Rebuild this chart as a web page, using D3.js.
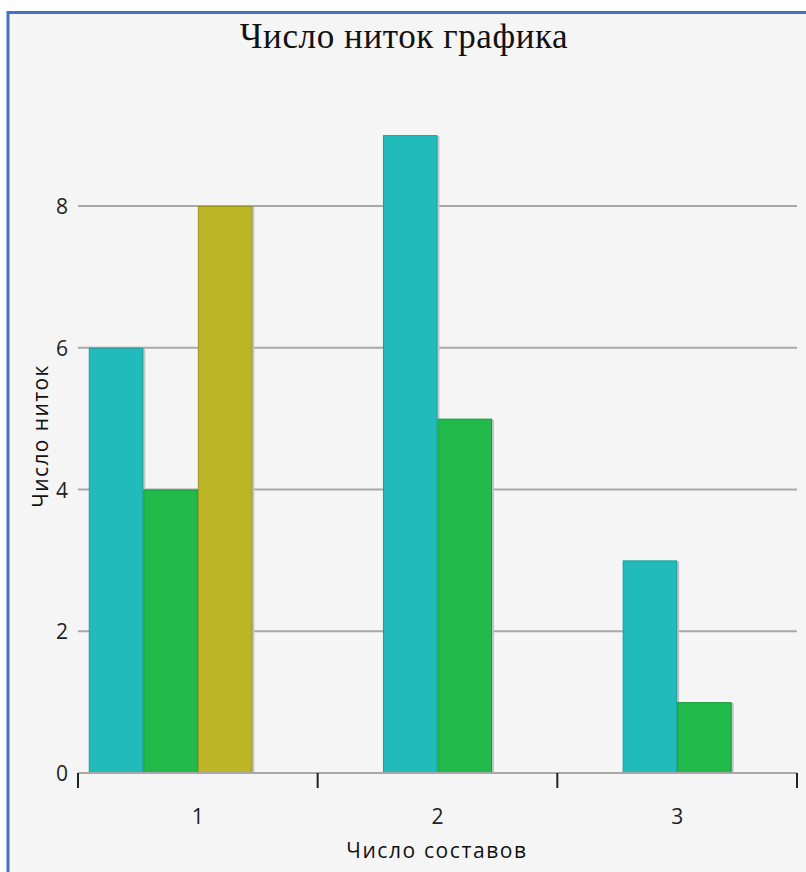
<!DOCTYPE html>
<html>
<head>
<meta charset="utf-8">
<script src="https://cdn.jsdelivr.net/npm/d3@7"></script>
<style>
html,body{margin:0;padding:0;background:#fff;}
svg{display:block;}
</style>
</head>
<body>
<svg id="chart" width="806" height="872"></svg>
<script>
const categories = ["1", "2", "3"];
const seriesA = [6, 9, 3];
const seriesB = [4, 5, 1];
const seriesC = [8, null, null];
const seriesD = [0, null, null];
const yTicks = [0, 2, 4, 6, 8];
const titleText = "Число ниток графика";
const xTitle = "Число составов";
const yTitle = "Число ниток";

const series = [seriesA, seriesB, seriesC, seriesD];
const fills = ["#22BBBC", "#22BA4A", "#BCB525", "#BCB525"];
const strokes = ["#1A9C9D", "#1A9A3C", "#9A9420", "#9A9420"];
const sans = "'Open Sans', 'Noto Sans', sans-serif";

const svg = d3.select("#chart");
// panel background and border
svg.append("rect").attr("x", 7).attr("y", 11).attr("width", 806).attr("height", 872).attr("fill", "#f5f5f5");
svg.append("line").attr("x1", 8).attr("x2", 8).attr("y1", 11).attr("y2", 872).attr("stroke", "#4472C4").attr("stroke-width", 3);
svg.append("line").attr("x1", 7).attr("x2", 806).attr("y1", 12.5).attr("y2", 12.5).attr("stroke", "#4472C4").attr("stroke-width", 3);

const x = d3.scaleBand().domain(categories).range([78, 797]).padding(0);
const y = d3.scaleLinear().domain([0, 10]).range([773, 64.25]);

// gridlines
svg.append("g").selectAll("line").data(yTicks.filter(d => d > 0)).join("line")
  .attr("x1", 78).attr("x2", 797)
  .attr("y1", d => y(d)).attr("y2", d => y(d))
  .attr("stroke", "#a8a8a8").attr("stroke-width", 2);

// bars
const w = x.bandwidth() * 0.2275;
const groups = categories.map((c, ci) => {
  const vals = series.map((s, si) => ({ si, v: s[ci] })).filter(d => d.v !== null);
  const cx = x(c) + x.bandwidth() / 2;
  const inner = d3.scaleBand().domain(d3.range(vals.length))
    .range([cx - vals.length * w / 2, cx + vals.length * w / 2]);
  return vals.map((d, i) => ({ ...d, x0: inner(i), bw: inner.bandwidth() }));
}).flat();

const bars = svg.append("g");
bars.selectAll("rect.shadow").data(groups.filter(d => d.v > 0)).join("rect")
  .attr("class", "shadow")
  .attr("x", d => d.x0 + 2).attr("y", d => y(d.v) + 1)
  .attr("width", d => d.bw).attr("height", d => y(0) - y(d.v) - 1)
  .attr("fill", "#c4c4c4");
bars.selectAll("rect.bar").data(groups.filter(d => d.v > 0)).join("rect")
  .attr("class", "bar")
  .attr("x", d => d.x0 + 0.5).attr("y", d => y(d.v) + 0.5)
  .attr("width", d => d.bw - 1).attr("height", d => y(0) - y(d.v) - 1)
  .attr("fill", d => fills[d.si]).attr("stroke", d => strokes[d.si]).attr("stroke-width", 1);

// x axis line
svg.append("line").attr("x1", 78).attr("x2", 797).attr("y1", 773).attr("y2", 773)
  .attr("stroke", "#a8a8a8").attr("stroke-width", 2);
// x ticks at band edges
const edges = categories.map(c => x(c)).concat([x(categories[categories.length - 1]) + x.bandwidth()]);
svg.append("g").selectAll("line").data(edges).join("line")
  .attr("x1", d => d).attr("x2", d => d).attr("y1", 773).attr("y2", 788)
  .attr("stroke", "#222").attr("stroke-width", 2);

// x tick labels
svg.append("g").selectAll("text").data(categories).join("text")
  .attr("x", d => x(d) + x.bandwidth() / 2).attr("y", 824)
  .attr("text-anchor", "middle")
  .attr("font-family", sans).attr("font-size", 21).attr("fill", "#222")
  .text(d => d);

// y tick labels
svg.append("g").selectAll("text").data(yTicks).join("text")
  .attr("x", 68).attr("y", d => y(d) + 8)
  .attr("text-anchor", "end")
  .attr("font-family", sans).attr("font-size", 21).attr("fill", "#222")
  .text(d => d);

// titles
svg.append("text").attr("x", 404).attr("y", 48).attr("text-anchor", "middle")
  .attr("font-family", "'Liberation Serif', 'DejaVu Serif', serif").attr("font-size", 35)
  .attr("letter-spacing", 0.6).attr("fill", "#111")
  .text(titleText);
svg.append("text").attr("x", 437).attr("y", 858).attr("text-anchor", "middle")
  .attr("font-family", sans).attr("font-size", 21).attr("letter-spacing", 1.6).attr("fill", "#111")
  .text(xTitle);
svg.append("text").attr("transform", "translate(48,436) rotate(-90)").attr("text-anchor", "middle")
  .attr("font-family", sans).attr("font-size", 21).attr("letter-spacing", 1.4).attr("fill", "#111")
  .text(yTitle);
</script>
</body>
</html>
